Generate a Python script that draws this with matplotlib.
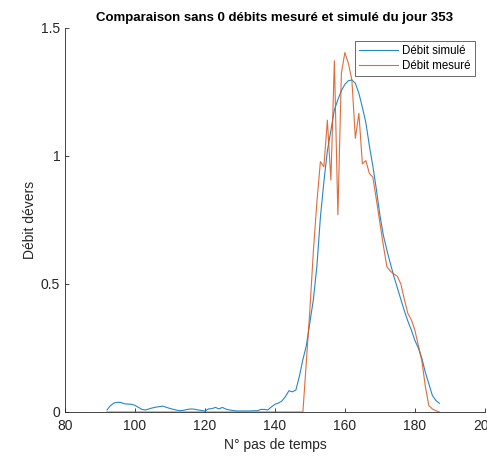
import numpy as np
import matplotlib
matplotlib.use("Agg")
import matplotlib.pyplot as plt

plt.rcParams["font.family"] = ["Liberation Sans", "DejaVu Sans"]

# time steps (day 353)
steps = np.arange(92, 188)

# simulated flow
debit_simule = [
    0.008, 0.025, 0.035, 0.038, 0.037, 0.032, 0.031, 0.030, 0.026, 0.018,
    0.010, 0.008, 0.012, 0.016, 0.019, 0.021, 0.023, 0.018, 0.014, 0.010,
    0.007, 0.005, 0.007, 0.010, 0.012, 0.011, 0.008, 0.006, 0.004, 0.012,
    0.013, 0.018, 0.012, 0.018, 0.011, 0.008, 0.006, 0.004, 0.004, 0.004,
    0.004, 0.004, 0.005, 0.005, 0.010, 0.010, 0.008, 0.020, 0.030, 0.035,
    0.043, 0.060, 0.083, 0.079, 0.086, 0.140, 0.205, 0.260, 0.350, 0.440,
    0.570, 0.760, 0.900, 1.020, 1.100, 1.180, 1.220, 1.255, 1.280, 1.294,
    1.297, 1.284, 1.245, 1.190, 1.130, 1.040, 0.960, 0.870, 0.770, 0.690,
    0.633, 0.580, 0.530, 0.485, 0.440, 0.395, 0.355, 0.320, 0.280, 0.250,
    0.210, 0.155, 0.110, 0.065, 0.045, 0.034,
]

# measured flow (zero before step 149)
debit_mesure = [0.0] * 57 + [
    0.20, 0.40, 0.63, 0.82, 0.978, 0.958, 1.14, 0.906, 1.372, 0.77,
    1.323, 1.404, 1.362, 1.297, 1.069, 1.167, 0.969, 0.982, 0.932, 0.917,
    0.83, 0.74, 0.65, 0.568, 0.55, 0.539, 0.53, 0.50, 0.44, 0.385,
    0.36, 0.32, 0.26, 0.20, 0.10, 0.025, 0.012, 0.005, 0.0,
]

dark = (0.15, 0.15, 0.15)

fig = plt.figure(figsize=(4.87, 4.61), dpi=100)
ax = fig.add_axes([0.1335, 0.1063, 0.862, 0.833])

ax.plot(steps, debit_simule, color="#0072BD", lw=0.8, alpha=0.85, label="Débit simulé")
ax.plot(steps, debit_mesure, color="#D95319", lw=0.8, alpha=0.85, label="Débit mesuré")

ax.set_xlim(80, 200)
ax.set_ylim(0, 1.5)
ax.set_xticks([80, 100, 120, 140, 160, 180, 200])
ax.set_yticks([0, 0.5, 1, 1.5])
ax.set_yticklabels(["0", "0.5", "1", "1.5"])

for s in ["top", "right"]:
    ax.spines[s].set_visible(False)
for s in ["left", "bottom"]:
    ax.spines[s].set_color(dark)
    ax.spines[s].set_linewidth(0.6)
ax.tick_params(direction="in", length=3, width=0.6, colors=dark,
               labelsize=10, labelcolor=dark)
ax.tick_params(axis="x", pad=5)

ax.set_xlabel("N° pas de temps", fontsize=10, color=dark, labelpad=4)
ax.set_ylabel("Débit dévers", fontsize=10, color=dark, labelpad=3)
ax.set_title("Comparaison sans 0 débits mesuré et simulé du jour 353",
             fontsize=9.5, fontweight="bold", color="black", pad=5)

leg = ax.legend(loc="upper right", bbox_to_anchor=(475 / 487, 1 - 40.7 / 461),
                bbox_transform=fig.transFigure, borderaxespad=0,
                fancybox=False, fontsize=8.3, handlelength=3.4,
                handletextpad=0.4, borderpad=0.35, labelspacing=0.3)
leg.get_frame().set_edgecolor(dark)
leg.get_frame().set_linewidth(0.6)

fig.savefig("out.png", dpi=100)
